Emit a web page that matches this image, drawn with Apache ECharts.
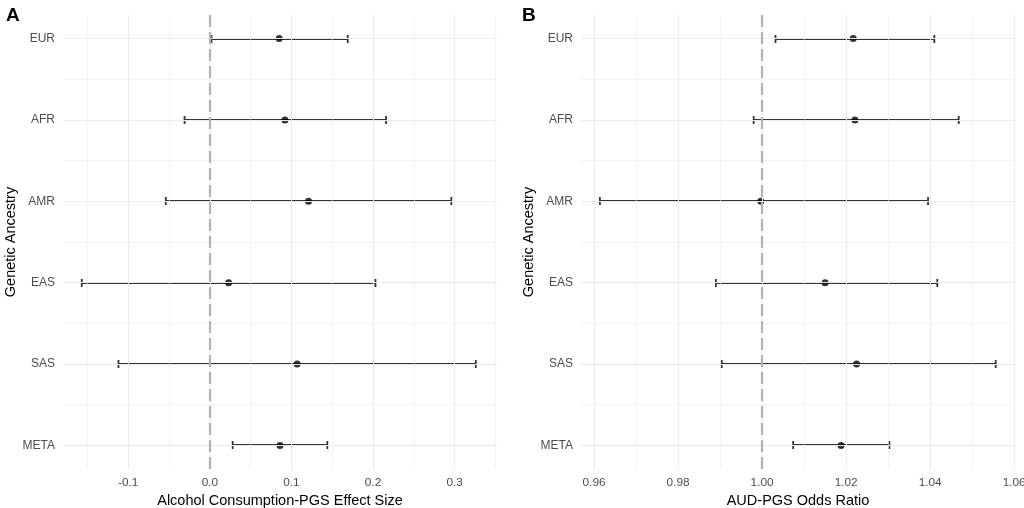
<!DOCTYPE html>
<html>
<head>
<meta charset="utf-8">
<script src="https://cdn.jsdelivr.net/npm/echarts@6/dist/echarts.min.js"></script>
<style>
  html, body { margin: 0; padding: 0; background: #fff; }
  #chart { width: 1024px; height: 508px; }
</style>
</head>
<body>
<div id="chart"></div>
<script>
// categories, top to bottom
const ancestry = ['EUR', 'AFR', 'AMR', 'EAS', 'SAS', 'META'];

// panel A: alcohol consumption PGS effect size
const acEst = [0.085, 0.092, 0.121, 0.023, 0.107, 0.086];
const acLow = [0.002, -0.031, -0.054, -0.157, -0.112, 0.028];
const acHigh = [0.169, 0.216, 0.296, 0.203, 0.326, 0.144];

// panel B: AUD PGS odds ratio
const audEst = [1.0217, 1.0221, 0.9997, 1.0150, 1.0225, 1.0188];
const audLow = [1.0032, 0.9980, 0.9614, 0.9890, 0.9904, 1.0074];
const audHigh = [1.0410, 1.0468, 1.0395, 1.0417, 1.0556, 1.0303];

// tick labels and minor grid positions
const acTicks = [-0.1, 0.0, 0.1, 0.2, 0.3];
const acMinor = [-0.15, -0.05, 0.05, 0.15, 0.25, 0.35];
const audTicks = [0.96, 0.98, 1.00, 1.02, 1.04, 1.06];
const audMinor = [0.97, 0.99, 1.01, 1.03, 1.05];
const rowTicks = [0, 1, 2, 3, 4, 5];
const rowMinor = [0.5, 1.5, 2.5, 3.5, 4.5];

const FONT = 'Liberation Sans, Arial, sans-serif';
const GRID_COL = '#ebebeb';

const chart = echarts.init(document.getElementById('chart'));

function errorBars(idx, low, high) {
  return {
    type: 'custom',
    xAxisIndex: idx,
    yAxisIndex: idx,
    z: 3,
    silent: true,
    data: low.map((v, i) => [v, high[i], i]),
    renderItem: function (params, api) {
      const a = api.coord([api.value(0), api.value(2)]);
      const b = api.coord([api.value(1), api.value(2)]);
      const y = Math.round(a[1]);
      const cap = 4;
      const style = { stroke: '#333', lineWidth: 1.8 };
      return {
        type: 'group',
        children: [
          { type: 'line', shape: { x1: a[0], y1: y, x2: b[0], y2: y }, style: style },
          { type: 'line', shape: { x1: a[0], y1: y - cap, x2: a[0], y2: y + cap }, style: style },
          { type: 'line', shape: { x1: b[0], y1: y - cap, x2: b[0], y2: y + cap }, style: style }
        ]
      };
    }
  };
}

function points(idx, est) {
  return {
    type: 'scatter',
    xAxisIndex: idx,
    yAxisIndex: idx,
    z: 4,
    silent: true,
    symbolSize: 7,
    itemStyle: { color: '#000' },
    data: est.map((v, i) => [v, i])
  };
}

// background grid lines and the dashed null line
function gridLines(idx, major, minor, nullValue) {
  const data = [];
  major.forEach(v => data.push({ xAxis: v, lineStyle: { width: 1 } }));
  minor.forEach(v => data.push({ xAxis: v, lineStyle: { width: 0.6 } }));
  rowTicks.forEach(v => data.push({ yAxis: v, lineStyle: { width: 1 } }));
  rowMinor.forEach(v => data.push({ yAxis: v, lineStyle: { width: 0.6 } }));
  data.push({ xAxis: nullValue, lineStyle: { color: '#b3b3b3', width: 2.2, type: [12, 5] } });
  return {
    type: 'line',
    xAxisIndex: idx,
    yAxisIndex: idx,
    z: 1,
    silent: true,
    data: [],
    markLine: {
      silent: true,
      symbol: 'none',
      animation: false,
      label: { show: false },
      lineStyle: { color: GRID_COL, type: 'solid' },
      data: data
    }
  };
}

function xAxis(idx, min, max, ticks, digits, name) {
  return {
    type: 'value',
    gridIndex: idx,
    min: min,
    max: max,
    name: name,
    nameLocation: 'middle',
    nameGap: 23,
    nameTextStyle: { fontFamily: FONT, fontSize: 14.5, color: '#000' },
    axisLine: { show: false },
    axisTick: { show: false },
    splitLine: { show: false },
    axisLabel: {
      customValues: ticks,
      margin: 8,
      fontFamily: FONT,
      fontSize: 11.8,
      color: '#4d4d4d',
      formatter: v => v.toFixed(digits)
    }
  };
}

function yAxis(idx) {
  return {
    type: 'value',
    gridIndex: idx,
    inverse: true,
    min: -0.29,
    max: 5.29,
    name: 'Genetic Ancestry',
    nameLocation: 'middle',
    nameGap: 43,
    nameTextStyle: { fontFamily: FONT, fontSize: 14.5, color: '#000' },
    axisLine: { show: false },
    axisTick: { show: false },
    splitLine: { show: false },
    axisLabel: {
      customValues: rowTicks,
      margin: 8,
      fontFamily: FONT,
      fontSize: 12,
      color: '#4d4d4d',
      formatter: v => ancestry[Math.round(v)]
    }
  };
}

chart.setOption({
  animation: false,
  backgroundColor: '#fff',
  title: [
    { text: 'A', left: 1, top: 1, textStyle: { fontFamily: FONT, fontSize: 19, fontWeight: 'bold', color: '#000' } },
    { text: 'B', left: 517, top: 1, textStyle: { fontFamily: FONT, fontSize: 19, fontWeight: 'bold', color: '#000' } }
  ],
  grid: [
    { left: 63, width: 434, top: 15, bottom: 39, outerBoundsMode: 'none' },
    { left: 581, width: 434, top: 15, bottom: 39, outerBoundsMode: 'none' }
  ],
  xAxis: [
    xAxis(0, -0.18, 0.352, acTicks, 1, 'Alcohol Consumption-PGS Effect Size'),
    xAxis(1, 0.9569, 1.0602, audTicks, 2, 'AUD-PGS Odds Ratio')
  ],
  yAxis: [yAxis(0), yAxis(1)],
  series: [
    gridLines(0, acTicks, acMinor, 0),
    errorBars(0, acLow, acHigh),
    points(0, acEst),
    gridLines(1, audTicks, audMinor, 1.0),
    errorBars(1, audLow, audHigh),
    points(1, audEst)
  ]
});
</script>
</body>
</html>
